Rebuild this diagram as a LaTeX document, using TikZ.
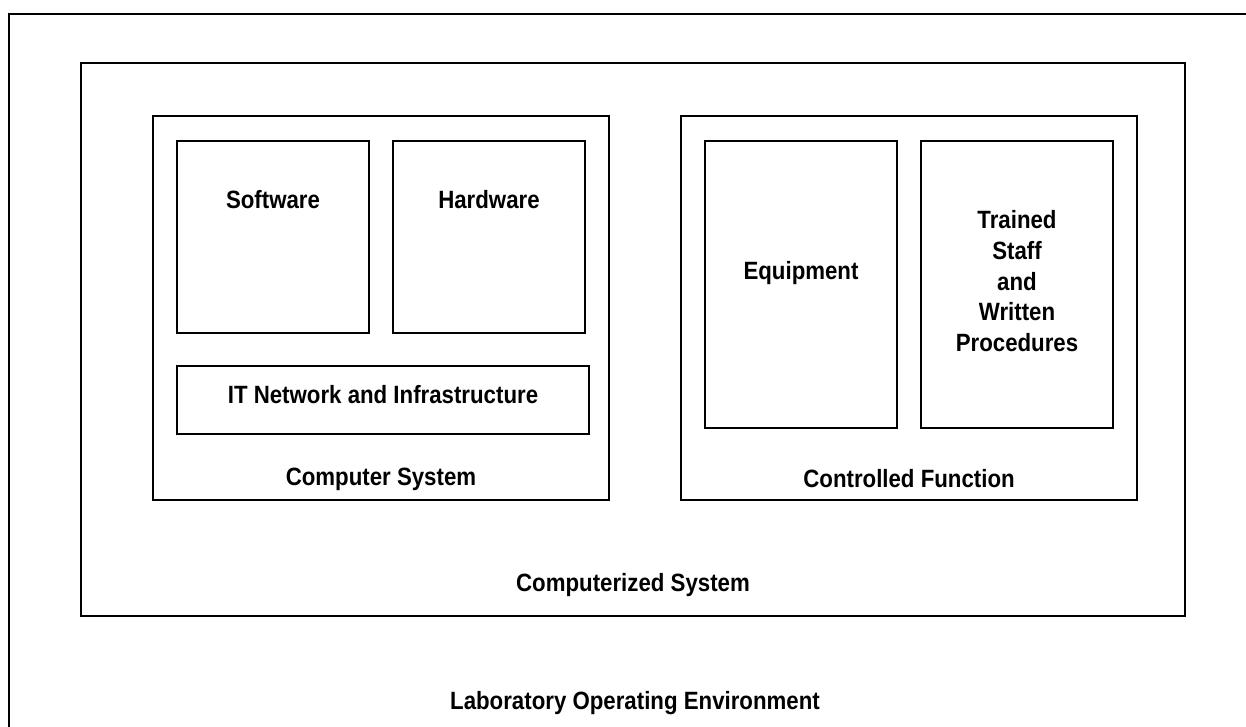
\documentclass[tikz,border=0pt]{standalone}
\usepackage{fontspec}
\setmainfont{Liberation Sans}[FakeStretch=0.89]
\begin{document}
\begin{tikzpicture}[x=1pt,y=-1pt,
  frame/.style={draw=black,line width=1.8pt,fill=none,inner sep=0pt},
  outerframe/.style={draw=black,line width=2.4pt},
  lbl/.style={anchor=base,inner sep=0pt,font=\fontsize{25}{30}\selectfont\bfseries}]
\useasboundingbox (0,0) rectangle (1246,727);
\clip (0,0) rectangle (1246,727);
% outermost frame runs past the right and bottom edges
\draw[outerframe] (9,14) rectangle (1300,800);
% containers
\draw[frame] (81,63) rectangle (1185,616);
\draw[frame] (153,116) rectangle (609,500);
\draw[frame] (681,116) rectangle (1137,500);
% components
\draw[frame] (177,141) rectangle (369,333);
\draw[frame] (393,141) rectangle (585,333);
\draw[frame] (177,366) rectangle (589,434);
\draw[frame] (705,141) rectangle (897,428);
\draw[frame] (921,141) rectangle (1113,428);
% labels
\node[lbl] (sw) at (273,209) {Software};
\node[lbl] (hw) at (489,209) {Hardware};
\node[lbl] (it) at (383,403) {IT Network and Infrastructure};
\node[lbl] (cs) at (381,485) {Computer System};
\node[lbl] (eq) at (801,279) {Equipment};
\node[lbl] (t1) at (1017,229) {Trained};
\node[lbl] (t2) at (1017,259.5) {Staff};
\node[lbl] (t3) at (1017,290) {and};
\node[lbl] (t4) at (1017,320.5) {Written};
\node[lbl] (t5) at (1017,351) {Procedures};
\node[lbl] (cf) at (909,487) {Controlled Function};
\node[lbl] (cz) at (633,591) {Computerized System};
\node[lbl] (lo) at (635,709) {Laboratory Operating Environment};
\end{tikzpicture}
\end{document}
